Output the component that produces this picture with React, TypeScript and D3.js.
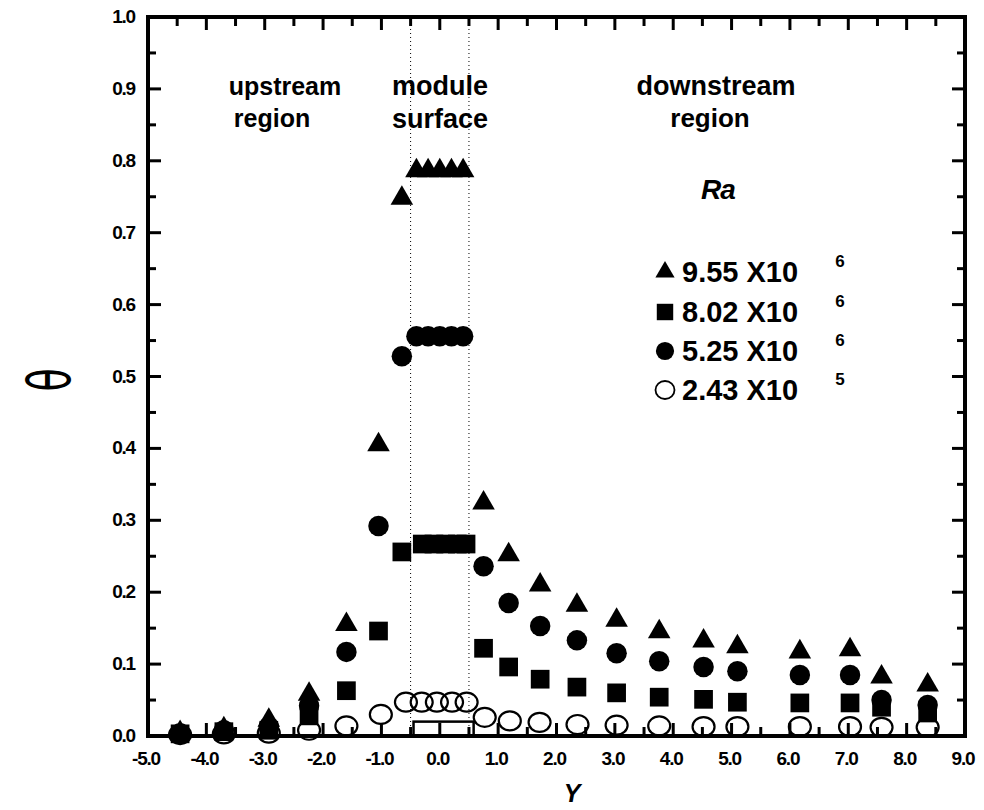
import React from 'react'
import * as d3 from 'd3'

// Y positions of the measurement columns (outside the module surface)
const columnY = [-4.45, -3.7, -2.93, -2.24, -1.6, -1.05, -0.65, 0.75, 1.18, 1.72, 2.35, 3.03, 3.76, 4.52, 5.1, 6.17, 7.03, 7.57, 8.36]
const thetaRa955 = [0.005, 0.01, 0.022, 0.058, 0.155, 0.405, 0.748, 0.324, 0.252, 0.21, 0.182, 0.161, 0.145, 0.132, 0.124, 0.117, 0.12, 0.082, 0.071]
const thetaRa802 = [0.003, 0.006, 0.008, 0.028, 0.063, 0.146, 0.256, 0.122, 0.096, 0.079, 0.068, 0.06, 0.054, 0.051, 0.047, 0.046, 0.046, 0.04, 0.032]
const thetaRa525 = [0.004, 0.008, 0.013, 0.042, 0.117, 0.292, 0.528, 0.236, 0.185, 0.153, 0.133, 0.115, 0.104, 0.096, 0.09, 0.085, 0.085, 0.05, 0.043]

// open circles (Ra = 2.43e5)
const openY = [-4.45, -3.7, -2.93, -2.24, -1.6, -1.01, 0.77, 1.2, 1.71, 2.36, 3.03, 3.76, 4.52, 5.1, 6.17, 7.03, 7.57, 8.36]
const thetaRa243 = [0.002, 0.003, 0.004, 0.008, 0.014, 0.03, 0.026, 0.021, 0.019, 0.016, 0.015, 0.014, 0.013, 0.013, 0.013, 0.013, 0.012, 0.012]

// points on the module surface
const moduleY = [-0.4, -0.2, 0, 0.2, 0.4]
const moduleSquareY = [-0.3, -0.1, 0.1, 0.3, 0.45]
const moduleOpenY = [-0.58, -0.31, -0.05, 0.21, 0.46]
const moduleTheta = { ra955: 0.786, ra802: 0.267, ra525: 0.556, ra243: 0.047 }
const moduleEdges = [-0.5, 0.5]
const moduleBlock = { y0: -0.45, y1: 0.58, theta: 0.02 }

const legendLabels = [
  { mant: '9.55 X10', exp: '6', kind: 'tri' },
  { mant: '8.02 X10', exp: '6', kind: 'sq' },
  { mant: '5.25 X10', exp: '6', kind: 'dot' },
  { mant: '2.43 X10', exp: '5', kind: 'open' },
]

const font = '"Liberation Sans", Arial, sans-serif'

export default function App() {
  const width = 984
  const height = 810
  const x = d3.scaleLinear().domain([-5, 9]).range([148, 965])
  const y = d3.scaleLinear().domain([0, 1]).range([736, 17])
  const [x0, x1] = x.range()
  const [y0, y1] = y.range()

  const tri = d3.symbol().type(d3.symbolTriangle).size(220)()
  const sq = d3.symbol().type(d3.symbolSquare).size(350)()
  const dot = d3.symbol().type(d3.symbolCircle).size(330)()
  const triL = d3.symbol().type(d3.symbolTriangle).size(160)()
  const sqL = d3.symbol().type(d3.symbolSquare).size(270)()
  const dotL = d3.symbol().type(d3.symbolCircle).size(260)()

  const xTicks = d3.range(-5, 9.001, 0.5)
  const yTicks = d3.range(0, 1.0001, 0.05)
  const isMajor = (v, step) => Math.abs(v / step - Math.round(v / step)) < 1e-6

  const legendX = 665
  const legendRows = [272, 312, 351, 390]

  return (
    <svg width={width} height={height} style={{ position: 'absolute', left: 0, top: 0, background: '#fff' }}
      fontFamily={font}>
      {/* module surface edges */}
      {moduleEdges.map((v, i) => (
        <line key={'e' + i} x1={x(v)} x2={x(v)} y1={y1} y2={y0} stroke="#000" strokeWidth={1}
          strokeDasharray="1,3" />
      ))}
      <rect x={x(moduleBlock.y0)} y={y(moduleBlock.theta)} width={x(moduleBlock.y1) - x(moduleBlock.y0)}
        height={y0 - y(moduleBlock.theta)} fill="none" stroke="#000" strokeWidth={2.5} />

      {/* ticks */}
      {xTicks.map((v) => {
        const len = isMajor(v, 1) ? 13 : 9
        return (
          <g key={'xt' + v}>
            <line x1={x(v)} x2={x(v)} y1={y0} y2={y0 - len} stroke="#000" strokeWidth={3} />
            <line x1={x(v)} x2={x(v)} y1={y1} y2={y1 + len} stroke="#000" strokeWidth={3} />
            {isMajor(v, 1) && (
              <text x={x(v) - 2} y={765} textAnchor="middle" fontSize={19} fontWeight="bold" letterSpacing={-1.2}>
                {v.toFixed(1)}
              </text>
            )}
          </g>
        )
      })}
      {yTicks.map((v) => {
        const len = isMajor(v, 0.1) ? 13 : 8
        return (
          <g key={'yt' + v}>
            <line x1={x0} x2={x0 + len} y1={y(v)} y2={y(v)} stroke="#000" strokeWidth={3} />
            <line x1={x1} x2={x1 - len} y1={y(v)} y2={y(v)} stroke="#000" strokeWidth={3} />
            {isMajor(v, 0.1) && (
              <text x={135} y={y(v) + 6} textAnchor="end" fontSize={19} fontWeight="bold" letterSpacing={-1.2}>
                {v.toFixed(1)}
              </text>
            )}
          </g>
        )
      })}
      <rect x={x0} y={y1} width={x1 - x0} height={y0 - y1} fill="none" stroke="#000" strokeWidth={4} />

      {/* data */}
      {thetaRa243.map((t, i) => (
        <ellipse key={'o' + i} cx={x(openY[i])} cy={y(t)} rx={11} ry={9.5} fill="none" stroke="#000" strokeWidth={2.2} />
      ))}
      {moduleOpenY.map((v, i) => (
        <ellipse key={'mo' + i} cx={x(v)} cy={y(moduleTheta.ra243)} rx={11} ry={9.5} fill="none" stroke="#000" strokeWidth={2.2} />
      ))}
      {thetaRa802.map((t, i) => (
        <path key={'s' + i} d={sq} transform={`translate(${x(columnY[i])},${y(t)})`} />
      ))}
      {moduleSquareY.map((v, i) => (
        <path key={'ms' + i} d={sq} transform={`translate(${x(v)},${y(moduleTheta.ra802)})`} />
      ))}
      {thetaRa525.map((t, i) => (
        <path key={'c' + i} d={dot} transform={`translate(${x(columnY[i])},${y(t)})`} />
      ))}
      {moduleY.map((v, i) => (
        <path key={'mc' + i} d={dot} transform={`translate(${x(v)},${y(moduleTheta.ra525)})`} />
      ))}
      {thetaRa955.map((t, i) => (
        <path key={'t' + i} d={tri} transform={`translate(${x(columnY[i])},${y(t)})`} />
      ))}
      {moduleY.map((v, i) => (
        <path key={'mt' + i} d={tri} transform={`translate(${x(v)},${y(moduleTheta.ra955)})`} />
      ))}

      {/* region labels */}
      <g fontWeight="bold" textAnchor="middle">
        <text x={285} y={95} fontSize={25}>upstream</text>
        <text x={272} y={127} fontSize={25}>region</text>
        <text x={440} y={95} fontSize={27}>module</text>
        <text x={440} y={128} fontSize={27}>surface</text>
        <text x={716} y={95} fontSize={27}>downstream</text>
        <text x={710} y={127} fontSize={26}>region</text>
      </g>

      {/* legend */}
      <text x={718} y={199} fontSize={28} fontWeight="bold" fontStyle="italic" textAnchor="middle"
        letterSpacing={-1}>Ra</text>
      {legendLabels.map((d, i) => {
        const cy = legendRows[i]
        return (
          <g key={'l' + i}>
            {d.kind === 'tri' && <path d={triL} transform={`translate(${legendX},${cy})`} />}
            {d.kind === 'sq' && <path d={sqL} transform={`translate(${legendX},${cy})`} />}
            {d.kind === 'dot' && <path d={dotL} transform={`translate(${legendX},${cy})`} />}
            {d.kind === 'open' && <ellipse cx={legendX} cy={cy} rx={9.5} ry={9} fill="none" stroke="#000" strokeWidth={1.8} />}
            <text x={682} y={cy + 10} fontSize={29} fontWeight="bold">{d.mant}</text>
            <text x={840} y={cy - 5} fontSize={17} fontWeight="bold" textAnchor="middle">{d.exp}</text>
          </g>
        )
      })}

      {/* axis titles */}
      <text x={572} y={802} fontSize={25} fontWeight="bold" fontStyle="italic" textAnchor="middle">Y</text>
      <text transform="translate(70,380) rotate(-90) scale(1,1.55)" fontSize={38} textAnchor="middle"
        fontFamily='"DejaVu Sans", sans-serif'>θ</text>
    </svg>
  )
}
